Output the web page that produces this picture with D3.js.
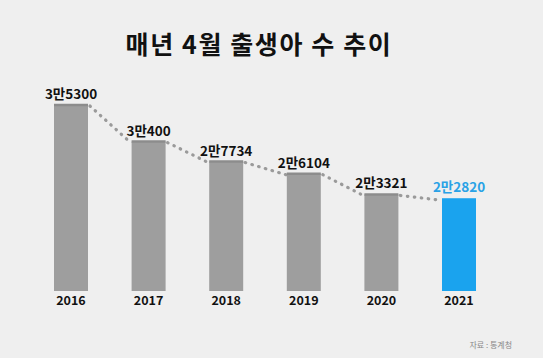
<!DOCTYPE html>
<html><head><meta charset="utf-8">
<script src="https://cdn.jsdelivr.net/npm/d3@7"></script>
<style>
html,body{margin:0;padding:0;background:#efefef;}
svg{display:block;}
text{font-family:"Noto Sans CJK KR","Noto Sans",sans-serif;}
</style></head>
<body>
<svg id="chart" width="543" height="358"></svg>
<script>
const years = ["2016","2017","2018","2019","2020","2021"];
const births = [35300, 30400, 27734, 26104, 23321, 22820];
const valueLabels = ["3만5300","3만400","2만7734","2만6104","2만3321","2만2820"];
const title = "매년 4월 출생아 수 추이";
const source = "자료 : 통계청";

const svg = d3.select("#chart");
svg.append("rect").attr("width",543).attr("height",358).attr("fill","#efefef");

const x = d3.scalePoint().domain(years).range([71, 459]);
const y = d3.scaleLinear().domain([10400, 35300]).range([291, 105]);
const bw = 34;
const gray = "#9e9e9e", blue = "#1aa3ee";

svg.append("text").attr("x",259).attr("y",54).attr("text-anchor","middle")
  .attr("font-size",25).attr("font-weight",700).attr("letter-spacing",1.6)
  .attr("fill","#111").text(title);

// bars
svg.selectAll("rect.bar").data(years).enter().append("rect")
  .attr("class","bar")
  .attr("x", d=>x(d)-bw/2).attr("width",bw)
  .attr("y",(d,i)=>y(births[i])).attr("height",(d,i)=>y.range()[0]-y(births[i]))
  .attr("fill",(d,i)=>i===years.length-1?blue:gray);

// trend line: caps on gray bar tops + dotted connectors
const n = years.length;
for(let i=0;i<n-1;i++){
  svg.append("line")
    .attr("x1",x(years[i])-bw/2).attr("x2",x(years[i])+bw/2)
    .attr("y1",y(births[i])).attr("y2",y(births[i]))
    .attr("stroke","#8c8c8c").attr("stroke-width",2.5);
  svg.append("line")
    .attr("x1",x(years[i])+bw/2+2).attr("y1",y(births[i])+1)
    .attr("x2",x(years[i+1])-bw/2-1).attr("y2",y(births[i+1])+(i+1===n-1?2:1))
    .attr("stroke","#9a9a9a").attr("stroke-width",3.2)
    .attr("stroke-linecap","round").attr("stroke-dasharray","0.5,6.5");
}

// value labels
svg.selectAll("text.val").data(years).enter().append("text")
  .attr("class","val").attr("x",d=>x(d)).attr("y",(d,i)=>y(births[i])-6)
  .attr("text-anchor","middle").attr("font-size",13.5).attr("font-weight",700)
  .attr("fill",(d,i)=>i===n-1?"#2aa2e6":"#111").text((d,i)=>valueLabels[i]);

// year labels
svg.selectAll("text.yr").data(years).enter().append("text")
  .attr("class","yr").attr("x",d=>x(d)).attr("y",305)
  .attr("text-anchor","middle").attr("font-size",12.5).attr("font-weight",700)
  .attr("fill","#111").text(d=>d);

svg.append("text").attr("x",512).attr("y",348).attr("text-anchor","end")
  .attr("font-size",8).attr("fill","#888").text(source);
</script>
</body></html>
